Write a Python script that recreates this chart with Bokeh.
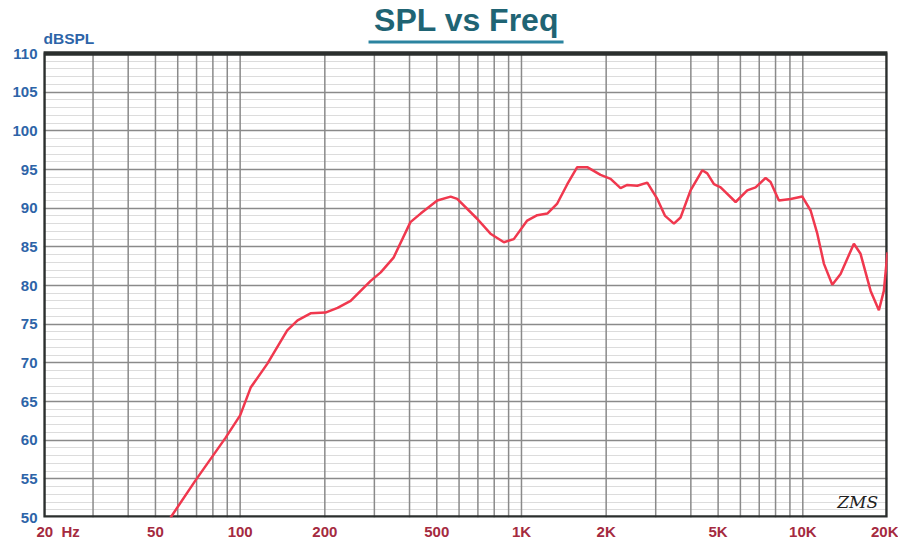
from bokeh.plotting import figure
from bokeh.models import FixedTicker, Label, Range1d
from bokeh.embed import file_html
from bokeh.resources import INLINE

freq = [56.6, 69.4, 88.7, 100, 109, 125, 147, 160, 178, 201, 222, 247, 291, 316, 351,
        403, 438, 502, 560, 591, 697, 776, 866, 939, 1048, 1138, 1235, 1340, 1455, 1578,
        1713, 1910, 2074, 2250, 2377, 2580, 2800, 3039, 3240, 3482, 3677, 3990, 4391, 4575,
        4832, 5103, 5770, 6346, 6795, 7374, 7681, 8224, 9050, 9958, 10660, 11260, 11890,
        12730, 13620, 15190, 16040, 17420, 18640, 19410, 20000]
spl = [50.0, 54.8, 60.3, 63.2, 66.8, 69.9, 74.2, 75.5, 76.4, 76.5, 77.1, 78.0, 80.6, 81.7, 83.6,
       88.2, 89.3, 91.0, 91.5, 91.2, 88.6, 86.7, 85.6, 86.0, 88.4, 89.1, 89.3, 90.6, 93.1, 95.3,
       95.3, 94.3, 93.8, 92.6, 93.0, 92.9, 93.3, 91.2, 89.0, 88.0, 88.8, 92.3, 94.9, 94.5,
       93.1, 92.7, 90.8, 92.3, 92.7, 93.9, 93.4, 91.0, 91.2, 91.5, 89.7, 86.7, 82.8,
       80.1, 81.5, 85.4, 84.1, 79.3, 76.8, 79.3, 84.3]

x_ticks = [20, 50, 100, 200, 500, 1000, 2000, 5000, 10000, 20000]
x_labels = ["\u00a0" * 7 + "20\u00a0\u00a0Hz", "50", "100", "200", "500", "1K", "2K", "5K", "10K", "20K"]
y_ticks = list(range(50, 111, 5))
y_minor = list(range(50, 111, 1))
grid_x = [20, 30, 40, 50, 60, 70, 80, 90, 100, 200, 300, 400, 500, 600, 700, 800, 900,
          1000, 2000, 3000, 4000, 5000, 6000, 7000, 8000, 9000, 10000, 20000]
y_min, y_max = 50, 110
x_min, x_max = 20, 20000

# frame spans from the plot area up to the page top; upper part holds title and unit label
top_extra = 53 / 7.73
p = figure(width=898, height=542, x_axis_type="log", output_backend="svg",
           toolbar_location=None, x_range=Range1d(x_min, x_max),
           y_range=Range1d(y_min, y_max + top_extra),
           min_border_left=43, min_border_right=11, min_border_top=0, min_border_bottom=24)
p.background_fill_color = "white"
p.border_fill_color = "white"
p.outline_line_color = None

p.xaxis.ticker = FixedTicker(ticks=x_ticks)
p.xaxis.major_label_overrides = {float(t): l for t, l in zip(x_ticks, x_labels)}
p.yaxis.ticker = FixedTicker(ticks=y_ticks, minor_ticks=y_minor)
for ax in (p.xaxis[0], p.yaxis[0]):
    ax.axis_line_color = None
    ax.major_tick_line_color = None
    ax.minor_tick_line_color = None
    ax.major_tick_out = 0
    ax.minor_tick_out = 0
    ax.major_label_text_font = "Liberation Sans"
    ax.major_label_text_font_style = "bold"
p.xaxis.major_label_text_color = "#a52a40"
p.xaxis.major_label_text_font_size = "15px"
p.xaxis.major_label_standoff = 5
p.yaxis.major_label_text_color = "#2d64a8"
p.yaxis.major_label_text_font_size = "15px"
p.yaxis.major_label_standoff = 6

p.xgrid.grid_line_color = None
p.ygrid.grid_line_color = "#8a8a8a"
p.ygrid.grid_line_width = 1.5
p.ygrid.minor_grid_line_color = "#dcdcdc"
p.ygrid.minor_grid_line_width = 1

# vertical grid lines limited to the plot area
p.segment(x0=grid_x, y0=[y_min] * len(grid_x), x1=grid_x, y1=[y_max] * len(grid_x),
          line_color="#8a8a8a", line_width=1.5)
# plot area border
p.quad(left=[x_min], right=[x_max], bottom=[y_min], top=[y_max], fill_color=None,
       line_color="#2b2f2e", line_width=4.5)

p.line(freq, spl, line_color="#f0384e", line_width=2.5)

p.add_layout(Label(x=638, y=y_max + 34 / 7.73, text="SPL vs Freq", text_align="center",
                   text_baseline="alphabetic", text_font="Liberation Sans",
                   text_font_style="bold", text_font_size="32px", text_color="#1f6474"))
p.segment(x0=[286], y0=[y_max + 11.5 / 7.73], x1=[1411], y1=[y_max + 11.5 / 7.73],
          line_color="#2b84a0", line_width=3)
p.add_layout(Label(x=x_min, y=y_max + 15 / 7.73, text="dBSPL", text_align="left",
                   text_baseline="alphabetic", text_font="Liberation Sans",
                   text_font_style="bold", text_font_size="15.5px", text_color="#2d64a8"))
p.add_layout(Label(x=15660, y=52.0, text="ZMS", text_align="center",
                   text_baseline="alphabetic", text_font="DejaVu Serif",
                   text_font_style="italic", text_font_size="17px", text_color="#222222"))

open("out.html", "w").write(file_html(p, INLINE))
